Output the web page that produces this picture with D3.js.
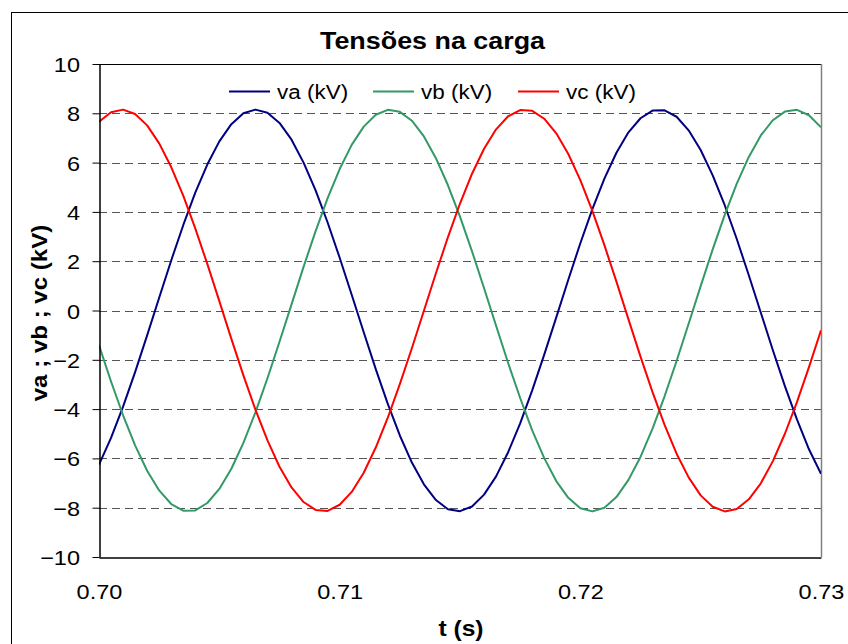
<!DOCTYPE html>
<html>
<head>
<meta charset="utf-8">
<script src="https://cdn.jsdelivr.net/npm/d3@7"></script>
<style>
  html, body { margin: 0; padding: 0; background: #fff; }
  svg { display: block; font-family: "Liberation Sans", Arial, sans-serif; }
</style>
</head>
<body>
<svg id="chart" width="848" height="644"></svg>
<script>
const titleText = "Tensões na carga";
const xTitle = "t (s)";
const yTitle = "va ; vb ; vc (kV)";
const seriesNames = ["va (kV)", "vb (kV)", "vc (kV)"];
const seriesColors = ["#000080", "#339966", "#ff0000"];
const xTicks = [0.70, 0.71, 0.72, 0.73];
const yTicks = [-10, -8, -6, -4, -2, 0, 2, 4, 6, 8, 10];

const t = [0.7000,0.7005,0.7010,0.7015,0.7020,0.7025,0.7030,0.7035,0.7040,0.7045,
           0.7050,0.7055,0.7060,0.7065,0.7070,0.7075,0.7080,0.7085,0.7090,0.7095,
           0.7100,0.7105,0.7110,0.7115,0.7120,0.7125,0.7130,0.7135,0.7140,0.7145,
           0.7150,0.7155,0.7160,0.7165,0.7170,0.7175,0.7180,0.7185,0.7190,0.7195,
           0.7200,0.7205,0.7210,0.7215,0.7220,0.7225,0.7230,0.7235,0.7240,0.7245,
           0.7250,0.7255,0.7260,0.7265,0.7270,0.7275,0.7280,0.7285,0.7290,0.7295,
           0.7300];

const va = [-6.25,-5.17,-3.90,-2.50,-1.01,0.52,2.03,3.46,4.78,5.92,
            6.86,7.56,8.00,8.15,8.02,7.61,6.93,6.00,4.87,3.57,
            2.14,0.64,-0.88,-2.38,-3.79,-5.07,-6.17,-7.05,-7.69,-8.06,
            -8.14,-7.95,-7.47,-6.73,-5.75,-4.58,-3.24,-1.79,-0.28,1.25,
            2.73,4.11,5.35,6.40,7.23,7.80,8.11,8.12,7.86,7.31,
            6.51,5.48,4.27,2.90,1.43,-0.09,-1.61,-3.07,-4.42,-5.63,
            -6.62];

const vb = [-1.41,-2.88,-4.25,-5.47,-6.50,-7.30,-7.85,-8.12,-8.11,-7.81,
            -7.24,-6.42,-5.37,-4.13,-2.75,-1.27,0.25,1.77,3.22,4.56,
            5.74,6.72,7.46,7.94,8.14,8.06,7.70,7.06,6.18,5.08,
            3.81,2.40,0.90,-0.62,-2.13,-3.55,-4.86,-5.99,-6.92,-7.60,
            -8.02,-8.15,-8.00,-7.57,-6.87,-5.94,-4.79,-3.48,-2.05,-0.54,
            0.99,2.48,3.88,5.15,6.23,7.10,7.72,8.07,8.14,7.92,
            7.43];

const vc = [7.66,8.04,8.15,7.97,7.51,6.78,5.82,4.66,3.33,1.89,
            0.38,-1.15,-2.63,-4.02,-5.27,-6.34,-7.18,-7.77,-8.09,-8.13,
            -7.88,-7.36,-6.58,-5.56,-4.35,-2.99,-1.53,-0.01,1.51,2.98,
            4.34,5.55,6.56,7.35,7.88,8.13,8.10,7.78,7.19,6.35,
            5.29,4.04,2.65,1.17,-0.36,-1.87,-3.31,-4.64,-5.81,-6.77,
            -7.50,-7.96,-8.15,-8.05,-7.66,-7.01,-6.11,-5.00,-3.72,-2.30,
            -0.80];

const seriesValues = [va, vb, vc];

// ---- layout ----
const plot = { left: 99, right: 821, top: 64, bottom: 557 };
const SX = 1.12; // horizontal stretch of the original text rendering

const svg = d3.select("#chart");

// outer chart frame (extends beyond picture on right and bottom)
svg.append("rect")
  .attr("x", 11.5).attr("y", 12.5)
  .attr("width", 900).attr("height", 700)
  .attr("fill", "#fff").attr("stroke", "#000").attr("stroke-width", 1);

const x = d3.scaleLinear().domain([0.70, 0.73]).range([plot.left, plot.right]);
const y = d3.scaleLinear().domain([-10, 10]).range([plot.bottom, plot.top]);

// gridlines
svg.append("g")
  .selectAll("line")
  .data(yTicks.filter(v => v > -10 && v < 10))
  .join("line")
  .attr("x1", plot.left).attr("x2", plot.right)
  .attr("y1", d => Math.round(y(d)) + 0.5).attr("y2", d => Math.round(y(d)) + 0.5)
  .attr("stroke", "#555").attr("stroke-width", 1)
  .attr("stroke-dasharray", "8,5");

// plot area borders (top black, right gray)
svg.append("line")
  .attr("x1", plot.left).attr("x2", plot.right)
  .attr("y1", plot.top + 0.5).attr("y2", plot.top + 0.5)
  .attr("stroke", "#000").attr("stroke-width", 1);
svg.append("line")
  .attr("x1", plot.right + 0.5).attr("x2", plot.right + 0.5)
  .attr("y1", plot.top).attr("y2", plot.bottom)
  .attr("stroke", "#808080").attr("stroke-width", 1.5);

// clip
svg.append("defs").append("clipPath").attr("id", "clip")
  .append("rect")
  .attr("x", plot.left).attr("y", plot.top)
  .attr("width", plot.right - plot.left).attr("height", plot.bottom - plot.top);

// series lines
const line = d3.line()
  .x((d, i) => x(t[i]))
  .y(d => y(d));

const lines = svg.append("g").attr("clip-path", "url(#clip)");
seriesValues.forEach((vals, si) => {
  lines.append("path")
    .datum(vals)
    .attr("d", line)
    .attr("fill", "none")
    .attr("stroke", seriesColors[si])
    .attr("stroke-width", 2)
    .attr("stroke-linejoin", "round");
});

// y axis
const yAxis = svg.append("g")
  .attr("transform", `translate(${plot.left + 0.5},0)`)
  .call(d3.axisLeft(y).tickValues(yTicks).tickSize(7).tickSizeOuter(0).tickFormat(d3.format("d")));
yAxis.select(".domain").attr("stroke", "#000").attr("stroke-width", 1.5);
yAxis.selectAll(".tick line").attr("stroke", "#000").attr("stroke-width", 1);
yAxis.selectAll(".tick text")
  .attr("x", null).attr("dy", null)
  .attr("font-size", 21).attr("fill", "#000")
  .attr("font-family", "Liberation Sans, Arial, sans-serif")
  .attr("text-anchor", "end")
  .attr("transform", `translate(-19.5,7.5) scale(${SX},1)`);

// x axis
const xAxis = svg.append("g")
  .attr("transform", `translate(0,${plot.bottom + 0.5})`)
  .call(d3.axisBottom(x).tickValues(xTicks).tickSize(0).tickSizeOuter(0).tickFormat(d3.format(".2f")));
xAxis.select(".domain").attr("stroke", "#000").attr("stroke-width", 1.5);
xAxis.selectAll(".tick text")
  .attr("y", null).attr("dy", null)
  .attr("font-size", 21).attr("fill", "#000")
  .attr("font-family", "Liberation Sans, Arial, sans-serif")
  .attr("text-anchor", "middle")
  .attr("transform", `translate(0,41) scale(${SX},1)`);

// title
svg.append("text")
  .attr("transform", `translate(432.5,49.3) scale(${SX},1)`)
  .attr("text-anchor", "middle")
  .attr("font-size", 24).attr("font-weight", "bold")
  .text(titleText);

// x title
svg.append("text")
  .attr("transform", `translate(461,636) scale(${SX},1)`)
  .attr("text-anchor", "middle")
  .attr("font-size", 22).attr("font-weight", "bold")
  .text(xTitle);

// y title
svg.append("text")
  .attr("transform", `translate(46.5,313) rotate(-90) scale(${SX},1)`)
  .attr("text-anchor", "middle")
  .attr("font-size", 21.5).attr("font-weight", "bold")
  .text(yTitle);

// legend
const legendX = [229, 373, 518];
const legend = svg.append("g");
seriesNames.forEach((name, i) => {
  legend.append("line")
    .attr("x1", legendX[i]).attr("x2", legendX[i] + 41)
    .attr("y1", 91.5).attr("y2", 91.5)
    .attr("stroke", seriesColors[i]).attr("stroke-width", 2);
  legend.append("text")
    .attr("transform", `translate(${legendX[i] + 48},98.5) scale(1.07,1)`)
    .attr("font-size", 21)
    .text(name);
});
</script>
</body>
</html>
